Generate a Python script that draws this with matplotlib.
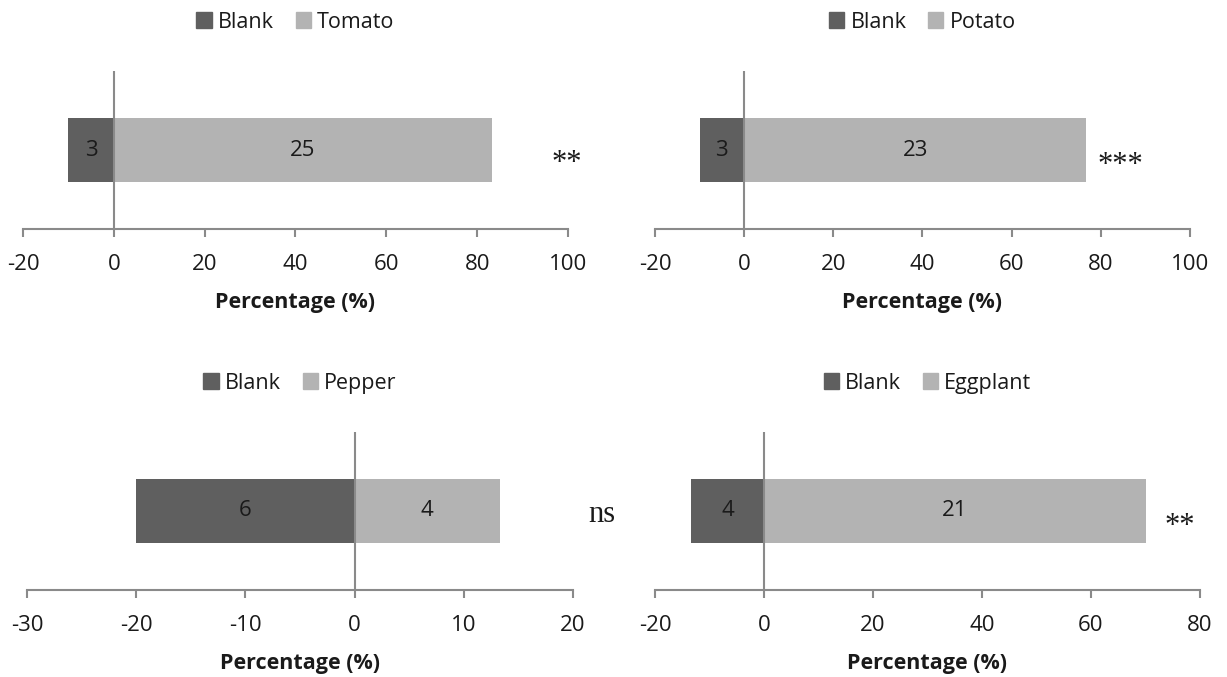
import matplotlib.pyplot as plt
from matplotlib.patches import Patch

# counts and percentages per crop (blank shown on the negative side)
crops = ["Tomato", "Potato", "Pepper", "Eggplant"]
blank_counts = [3, 3, 6, 4]
crop_counts = [25, 23, 4, 21]
blank_pct = [-10.0, -10.0, -20.0, -13.3]
crop_pct = [83.3, 76.7, 13.3, 70.0]
sig = ["**", "***", "ns", "**"]

x_limits = [(-20, 100), (-20, 100), (-30, 20), (-20, 80)]
x_steps = [20, 20, 10, 20]

# where the significance marks sit (data x, data y)
sig_pos = [(99.8, -0.085), (84.3, -0.095), (22.6, -0.02), (76.3, -0.1)]

dark = "#5f5f5f"
light = "#b3b3b3"
axis_col = "#8a8a8a"
txt = "#1a1a1a"

plt.rcParams["font.family"] = ["Open Sans", "DejaVu Sans"]
plt.rcParams["axes.unicode_minus"] = False

fig = plt.figure(figsize=(12.27, 6.77), dpi=100)

# axes boxes in figure fraction: left, bottom, width, height
boxes = [
    [0.0187, 0.6617, 0.4442, 0.2334],
    [0.5338, 0.6617, 0.4360, 0.2334],
    [0.0220, 0.1285, 0.4450, 0.2334],
    [0.5338, 0.1285, 0.4442, 0.2334],
]

for i, crop in enumerate(crops):
    ax = fig.add_axes(boxes[i])
    ax.barh(0, blank_pct[i], height=0.4, color=dark, label="Blank")
    ax.barh(0, crop_pct[i], height=0.4, color=light, label=crop)
    ax.text(blank_pct[i] / 2, 0, str(blank_counts[i]), ha="center", va="center",
            fontsize=16, color=txt)
    ax.text(crop_pct[i] / 2, 0, str(crop_counts[i]), ha="center", va="center",
            fontsize=16, color=txt)
    ax.axvline(0, color=axis_col, lw=1.5)

    lo, hi = x_limits[i]
    ax.set_xlim(lo, hi)
    ax.set_ylim(-0.5, 0.5)
    ax.set_xticks(range(lo, hi + 1, x_steps[i]))
    ax.set_yticks([])
    for s in ["top", "right", "left"]:
        ax.spines[s].set_visible(False)
    ax.spines["bottom"].set_color(axis_col)
    ax.spines["bottom"].set_linewidth(1.5)
    ax.tick_params(axis="x", colors=axis_col, width=1.5, length=6,
                   labelsize=16, labelcolor=txt, pad=12)
    ax.set_xlabel("Percentage (%)", fontsize=15.5, fontweight="bold", color=txt,
                  labelpad=12)

    sx, sy = sig_pos[i]
    ax.text(sx, sy, sig[i], ha="center", va="center", fontsize=22,
            family="Liberation Serif", color=txt, clip_on=False)

    handles = [Patch(color=dark), Patch(color=light)]
    ax.legend(handles, ["Blank", crop], loc="center", bbox_to_anchor=(0.5, 1.31),
              ncol=2, frameon=False, fontsize=15.5, handlelength=0.7,
              handleheight=0.7, handletextpad=0.3, columnspacing=1.0,
              labelcolor=txt)

fig.savefig("out.png", dpi=100)
